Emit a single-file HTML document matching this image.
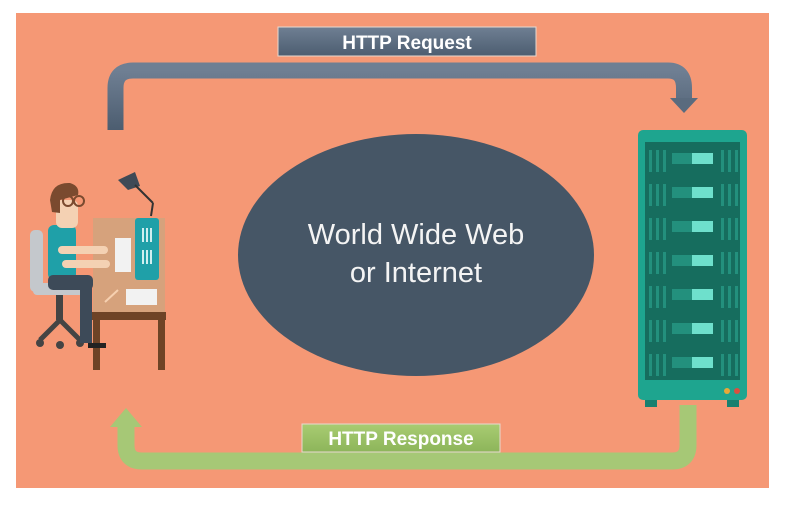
<!DOCTYPE html>
<html><head><meta charset="utf-8"><style>
body{margin:0;width:787px;height:506px;background:#fff;overflow:hidden}
svg{display:block}
</style></head><body>
<svg width="787" height="506" viewBox="0 0 787 506" xmlns="http://www.w3.org/2000/svg">
<defs>
<linearGradient id="gb" x1="0" y1="0" x2="0" y2="1"><stop offset="0" stop-color="#6f7f93"/><stop offset="1" stop-color="#4c5d70"/></linearGradient>
<linearGradient id="gg" x1="0" y1="0" x2="0" y2="1"><stop offset="0" stop-color="#a9cc72"/><stop offset="1" stop-color="#8db55a"/></linearGradient>
</defs>
<rect x="16" y="13" width="753" height="475" fill="#f59875"/>
<!-- request arrow -->
<path d="M115.5 130 V88 Q115.5 70.5 133 70.5 H668 Q684 70.5 684 88 V100" fill="none" stroke="url(#gb)" stroke-width="16"/>
<polygon points="670,98 698,98 684,113" fill="#5a6b7e"/>
<rect x="278" y="27" width="258" height="29" fill="url(#gb)" stroke="#e8d9d0" stroke-width="1"/>
<text x="407" y="49" text-anchor="middle" font-family="Liberation Sans, sans-serif" font-weight="bold" font-size="19" fill="#fff">HTTP Request</text>
<!-- response arrow -->
<path d="M688 405 V445 Q688 461 672 461 H142 Q126 461 126 445 V424" fill="none" stroke="#a6c876" stroke-width="17"/>
<polygon points="110,427 142,427 126,408" fill="#a6c876"/>
<rect x="302" y="424" width="198" height="28" fill="url(#gg)" stroke="#e8d9d0" stroke-width="1"/>
<text x="401" y="445" text-anchor="middle" font-family="Liberation Sans, sans-serif" font-weight="bold" font-size="19" fill="#fff">HTTP Response</text>
<!-- ellipse -->
<ellipse cx="416" cy="255" rx="178" ry="121" fill="#465666"/>
<text x="416" y="244" text-anchor="middle" font-family="Liberation Sans, sans-serif" font-size="29" fill="#f4f4f4">World Wide Web</text>
<text x="416" y="282" text-anchor="middle" font-family="Liberation Sans, sans-serif" font-size="29" fill="#f4f4f4">or Internet</text>
<!-- server -->
<rect x="645" y="398" width="12" height="9" fill="#17806f"/>
<rect x="727" y="398" width="12" height="9" fill="#17806f"/>
<rect x="638" y="130" width="109" height="270" rx="5" fill="#1ea58f"/>
<rect x="645" y="142" width="95" height="238" fill="#166d5e"/>
<g id="rows">
<g fill="#23907d">
<rect x="649" y="150" width="3" height="22"/><rect x="656" y="150" width="3" height="22"/><rect x="663" y="150" width="3" height="22"/>
<rect x="721" y="150" width="3" height="22"/><rect x="728" y="150" width="3" height="22"/><rect x="735" y="150" width="3" height="22"/>
<rect x="672" y="153" width="21" height="11"/></g>
<rect x="692" y="153" width="21" height="11" fill="#6ee0cc"/>
</g>
<use href="#rows" y="34"/><use href="#rows" y="68"/><use href="#rows" y="102"/><use href="#rows" y="136"/><use href="#rows" y="170"/><use href="#rows" y="204"/>
<circle cx="727" cy="391" r="3" fill="#e8a838"/><circle cx="737" cy="391" r="3" fill="#d9503f"/>
<!-- person scene -->
<rect x="93" y="218" width="72" height="100" fill="#d6a27c"/>
<rect x="91" y="312" width="75" height="8" fill="#6e4326"/>
<rect x="93" y="318" width="7" height="52" fill="#6e4326"/>
<rect x="158" y="318" width="7" height="52" fill="#6e4326"/>
<rect x="135" y="218" width="24" height="62" rx="3" fill="#1fa0a8"/>
<g fill="#cfeff0"><rect x="142" y="228" width="2" height="14"/><rect x="146" y="228" width="2" height="14"/><rect x="150" y="228" width="2" height="14"/><rect x="142" y="250" width="2" height="14"/><rect x="146" y="250" width="2" height="14"/><rect x="150" y="250" width="2" height="14"/></g>
<rect x="115" y="238" width="16" height="34" fill="#f2f2f2"/>
<rect x="126" y="289" width="31" height="16" fill="#f2f2f2"/>
<line x1="105" y1="302" x2="118" y2="290" stroke="#f6d0b0" stroke-width="2"/>
<polygon points="118,180 135,172 140,186 128,190" fill="#3f4a56"/>
<line x1="135" y1="185" x2="153" y2="203" stroke="#333" stroke-width="2"/>
<line x1="153" y1="203" x2="151" y2="216" stroke="#333" stroke-width="2"/>
<!-- chair -->
<rect x="30" y="230" width="13" height="62" rx="5" fill="#c4c8cc"/>
<rect x="33" y="283" width="57" height="12" rx="4" fill="#c4c8cc"/>
<rect x="56" y="295" width="7" height="25" fill="#444"/>
<path d="M40 340 L60 320 L80 340" fill="none" stroke="#444" stroke-width="5"/>
<circle cx="40" cy="343" r="4" fill="#444"/><circle cx="80" cy="343" r="4" fill="#444"/><circle cx="60" cy="345" r="4" fill="#444"/>
<!-- person -->
<rect x="48" y="225" width="28" height="55" rx="6" fill="#1fa0a8"/>
<rect x="48" y="275" width="45" height="15" rx="5" fill="#3d4a58"/>
<rect x="80" y="285" width="12" height="58" fill="#3d4a58"/>
<path d="M88 343 h18 v5 h-18z" fill="#222"/>
<rect x="58" y="246" width="50" height="8" rx="4" fill="#f4d1b3"/>
<rect x="62" y="260" width="48" height="8" rx="4" fill="#f4d1b3"/>
<rect x="56" y="200" width="22" height="28" rx="6" fill="#f4d1b3"/>
<path d="M50 200 Q52 182 70 183 Q80 186 78 195 L60 200 L60 213 L52 212Z" fill="#7a4a2f"/>
<circle cx="68" cy="201" r="5" fill="none" stroke="#7a4a2f" stroke-width="2"/>
<circle cx="79" cy="201" r="5" fill="none" stroke="#7a4a2f" stroke-width="2"/>
</svg>
</body></html>
